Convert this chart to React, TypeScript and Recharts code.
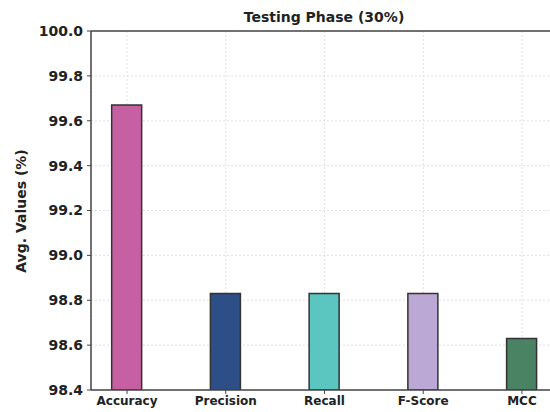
import { BarChart, Bar, XAxis, YAxis, CartesianGrid, ReferenceLine, Cell } from "recharts";

// metric names along the x axis
const metrics = ["Accuracy", "Precision", "Recall", "F-Score", "MCC"];
// average values (%) in the testing phase
const avgValues = [99.67, 98.83, 98.83, 98.83, 98.63];
const barColors = ["#c75fa3", "#2d4e87", "#5bc5bf", "#bca8d5", "#4a8264"];
const yTicks = [98.4, 98.6, 98.8, 99.0, 99.2, 99.4, 99.6, 99.8, 100.0];
const xTicks = [0, 1, 2, 3, 4];

const FONT = "'DejaVu Sans', sans-serif";
const AXIS_COLOR = "#444";

export default function App() {
  const data = metrics.map((name, i) => ({ idx: i, name, value: avgValues[i] }));

  return (
    <div
      style={{
        position: "fixed",
        left: 0,
        top: 0,
        width: 550,
        height: 412,
        overflow: "hidden",
        background: "#fff",
        fontFamily: FONT,
      }}
    >
      <BarChart
        width={580}
        height={412}
        data={data}
        margin={{ top: 31, right: 22, left: 0, bottom: 0 }}
      >
        <CartesianGrid stroke="#e0e0e0" strokeDasharray="2 2" />
        <XAxis
          dataKey="idx"
          type="number"
          domain={[-0.365, 4.365]}
          ticks={xTicks}
          tickFormatter={(v: number) => metrics[v] ?? ""}
          height={22}
          tickSize={4}
          tickMargin={2}
          axisLine={{ stroke: AXIS_COLOR, strokeWidth: 1.5 }}
          tickLine={{ stroke: AXIS_COLOR }}
          tick={{ fill: "#222", fontSize: 12, fontWeight: "bold", fontFamily: FONT }}
          interval={0}
        />
        <YAxis
          domain={[98.4, 100]}
          ticks={yTicks}
          allowDataOverflow
          width={91}
          tickSize={4}
          tickMargin={4}
          tickFormatter={(v: number) => v.toFixed(1)}
          axisLine={{ stroke: AXIS_COLOR, strokeWidth: 1.5 }}
          tickLine={{ stroke: AXIS_COLOR }}
          tick={{ fill: "#222", fontSize: 14, fontWeight: "bold", fontFamily: FONT }}
        />
        <ReferenceLine y={100} stroke={AXIS_COLOR} strokeWidth={1.5} />
        <Bar dataKey="value" barSize={30} stroke="#333" strokeWidth={1.5} isAnimationActive={false}>
          {data.map((d, i) => (
            <Cell key={d.name} fill={barColors[i]} />
          ))}
        </Bar>
      </BarChart>
      <svg
        width={550}
        height={412}
        style={{ position: "absolute", left: 0, top: 0, pointerEvents: "none" }}
      >
        <text
          x={324}
          y={22}
          textAnchor="middle"
          fontFamily={FONT}
          fontWeight="bold"
          fontSize={14}
          fill="#222"
        >
          Testing Phase (30%)
        </text>
        <text
          x={0}
          y={0}
          transform="translate(26, 211) rotate(-90)"
          textAnchor="middle"
          fontFamily={FONT}
          fontWeight="bold"
          fontSize={14}
          fill="#222"
        >
          Avg. Values (%)
        </text>
      </svg>
    </div>
  );
}
